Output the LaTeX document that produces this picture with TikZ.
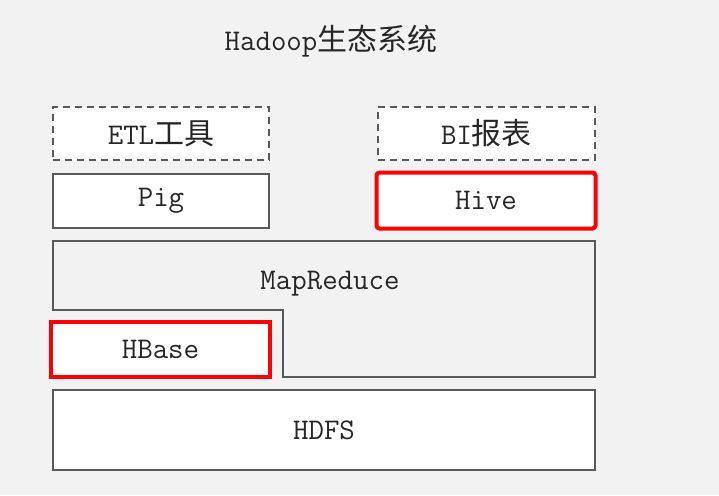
\documentclass[tikz,border=0pt]{standalone}
\usepackage{fontspec}
\newfontfamily\cjk{Noto Sans CJK SC}
\definecolor{fondo}{HTML}{F2F2F2}
\definecolor{borde}{HTML}{595959}
\definecolor{texto}{HTML}{262626}
\definecolor{rojo}{HTML}{FF0000}
\tikzset{
  letra/.style={text=texto, font=\ttfamily\fontsize{30}{32}\selectfont},
  capa/.style={letra, draw=borde, line width=1.4pt, fill=white, inner sep=0pt},
  capaguion/.style={capa, dash pattern=on 7pt off 5pt},
  capamarca/.style={capa, draw=rojo, line width=4pt}
}
\begin{document}
\begin{tikzpicture}[x=1pt,y=-1pt]

\fill[fondo] (0,0) rectangle (719,495);
\useasboundingbox (0,0) rectangle (719,495);

\node[letra] (titulo) at (331,41) {Hadoop{\cjk 生态系统}};

% Capa superior
\node[capaguion, minimum width=216pt, minimum height=53pt] (etl) at (161,133.5) {ETL{\cjk 工具}};
\node[capaguion, minimum width=217pt, minimum height=53pt] (bi) at (486.5,133.5) {BI{\cjk 报表}};

\node[capa, minimum width=216pt, minimum height=54pt] (pig) at (161,201) {Pig};
\node[capamarca, rounded corners=3pt, minimum width=219pt, minimum height=56pt] (hive) at (486,200.5) {Hive};

% MapReduce
\draw[borde, line width=1.4pt] (53,241) -- (595,241) -- (595,377) -- (283,377)
  -- (283,310) -- (53,310) -- cycle;
\node[letra] (mapreduce) at (330,284) {MapReduce};

\node[capamarca, minimum width=219pt, minimum height=55pt] (hbase) at (160.5,349.5) {HBase};

% Capa inferior
\node[capa, minimum width=542pt, minimum height=80pt] (hdfs) at (324,430) {HDFS};

\end{tikzpicture}
\end{document}
